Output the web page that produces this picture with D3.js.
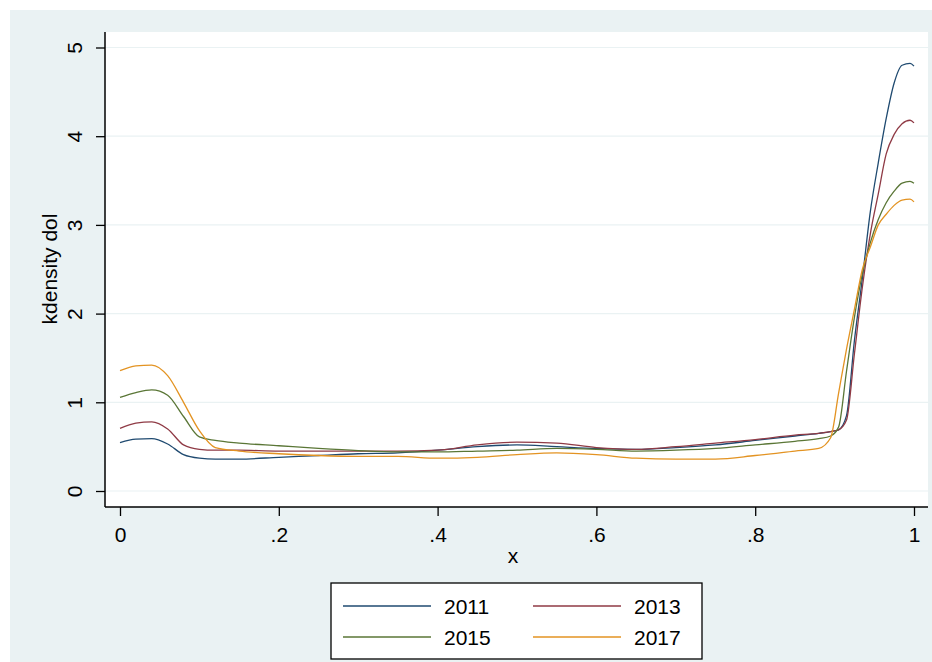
<!DOCTYPE html>
<html>
<head>
<meta charset="utf-8">
<script src="https://cdn.jsdelivr.net/npm/d3@7"></script>
<style>
  body { margin: 0; background: #fff; }
  svg { display: block; font-family: "Liberation Sans", Arial, sans-serif; }
</style>
</head>
<body>
<div id="chart"></div>
<script>
var xs = [0, .02, .04, .06, .08, .10, .12, .15, .20, .25, .30, .35, .40, .45, .50, .55, .60, .65, .70, .75, .80, .85, .88, .895, .905, .915, .925, .935, .945, .955, .965, .975, .985, .995, 1];

// kdensity values per year
var d2011 = [.545, .585, .59, .53, .41, .37, .36, .36, .38, .40, .42, .43, .46, .50, .52, .50, .48, .47, .49, .52, .57, .62, .65, .67, .69, .85, 1.7, 2.4, 3.15, 3.7, 4.2, 4.6, 4.8, 4.82, 4.79];
var d2013 = [.707, .765, .78, .70, .52, .47, .46, .46, .45, .45, .45, .45, .46, .52, .55, .54, .49, .47, .50, .54, .58, .63, .65, .67, .69, .80, 1.55, 2.3, 2.9, 3.35, 3.8, 4.02, 4.14, 4.18, 4.15];
var d2015 = [1.056, 1.11, 1.14, 1.08, .84, .61, .57, .54, .51, .48, .455, .44, .44, .45, .46, .48, .47, .45, .46, .48, .52, .56, .59, .62, .72, 1.35, 1.96, 2.45, 2.8, 3.06, 3.25, 3.38, 3.47, 3.49, 3.47];
var d2017 = [1.356, 1.41, 1.42, 1.30, 1.0, .68, .49, .45, .42, .40, .39, .39, .37, .38, .41, .43, .41, .37, .36, .36, .40, .45, .48, .60, 1.1, 1.6, 2.05, 2.5, 2.75, 3.0, 3.12, 3.22, 3.28, 3.29, 3.26];

var years = ["2011", "2013", "2015", "2017"];
var xTicks = [0, .2, .4, .6, .8, 1];
var xTickLabels = ["0", ".2", ".4", ".6", ".8", "1"];
var yTicks = [0, 1, 2, 3, 4, 5];

var series = [
  { name: years[0], values: d2011, color: "#1f4a70" },
  { name: years[1], values: d2013, color: "#8f3a45" },
  { name: years[2], values: d2015, color: "#5a7636" },
  { name: years[3], values: d2017, color: "#e39322" }
];

var W = 932, H = 662;
var bg = "#eaf2f3";

var svg = d3.select("#chart").append("svg")
  .attr("width", W)
  .attr("height", H);

// graph region (light blue-grey) and white plot region
svg.append("rect").attr("x", 10).attr("y", 10).attr("width", W - 10).attr("height", H - 10).attr("fill", bg);
svg.append("rect").attr("x", 105).attr("y", 32).attr("width", 823).attr("height", 475).attr("fill", "#fff");

var x = d3.scaleLinear().domain([0, 1]).range([120, 914]);
var y = d3.scaleLinear().domain([0, 5]).range([491, 47.5]);

// horizontal grid lines
svg.append("g").selectAll("line")
  .data(yTicks)
  .enter().append("line")
  .attr("x1", 105).attr("x2", 928)
  .attr("y1", function(d){ return y(d); })
  .attr("y2", function(d){ return y(d); })
  .attr("stroke", bg)
  .attr("stroke-width", 1.2);

// density lines
var line = d3.line()
  .x(function(d, i){ return x(xs[i]); })
  .y(function(d){ return y(d); })
  .curve(d3.curveMonotoneX);

svg.append("g").selectAll("path")
  .data(series)
  .enter().append("path")
  .attr("fill", "none")
  .attr("stroke", function(d){ return d.color; })
  .attr("stroke-width", 1.3)
  .attr("d", function(d){ return line(d.values); });

// x axis
var xAxis = svg.append("g")
  .attr("transform", "translate(0,507)")
  .call(d3.axisBottom(x).tickValues(xTicks).tickSize(9)
    .tickFormat(function(d, i){ return xTickLabels[i]; }));
xAxis.select(".domain").attr("d", "M105,0H928").attr("stroke", "#000").attr("stroke-width", 1.5);
xAxis.selectAll(".tick line").attr("stroke", "#000").attr("stroke-width", 1.3);
xAxis.selectAll(".tick text")
  .attr("y", 35).attr("dy", 0)
  .attr("font-size", 21)
  .attr("font-family", "Liberation Sans, Arial, sans-serif")
  .attr("fill", "#000");

// y axis, labels turned like Stata does
var yAxis = svg.append("g")
  .attr("transform", "translate(105,0)")
  .call(d3.axisLeft(y).tickValues(yTicks).tickSize(9).tickFormat(d3.format("d")));
yAxis.select(".domain").attr("d", "M0,32V507").attr("stroke", "#000").attr("stroke-width", 1.5);
yAxis.selectAll(".tick line").attr("stroke", "#000").attr("stroke-width", 1.3);
yAxis.selectAll(".tick text")
  .attr("x", 0).attr("dy", 0)
  .attr("transform", "translate(-23,0) rotate(-90)")
  .attr("text-anchor", "middle")
  .attr("font-size", 21)
  .attr("font-family", "Liberation Sans, Arial, sans-serif")
  .attr("fill", "#000");

// axis titles
svg.append("text")
  .attr("transform", "translate(57,269) rotate(-90)")
  .attr("text-anchor", "middle")
  .attr("font-size", 21)
  .attr("fill", "#000")
  .text("kdensity dol");

svg.append("text")
  .attr("x", 513).attr("y", 563)
  .attr("text-anchor", "middle")
  .attr("font-size", 21)
  .attr("fill", "#000")
  .text("x");

// legend
var legend = svg.append("g");
legend.append("rect")
  .attr("x", 331).attr("y", 583).attr("width", 371).attr("height", 76)
  .attr("fill", "#fff").attr("stroke", "#000").attr("stroke-width", 1.3);

var cols = [343, 533], rows = [606, 637];
var item = legend.selectAll(".item")
  .data(series)
  .enter().append("g")
  .attr("transform", function(d, i){ return "translate(" + cols[i % 2] + "," + rows[Math.floor(i / 2)] + ")"; });
item.append("line")
  .attr("x1", 0).attr("x2", 88)
  .attr("stroke", function(d){ return d.color; })
  .attr("stroke-width", 1.3);
item.append("text")
  .attr("x", 101).attr("y", 7.5)
  .attr("font-size", 21)
  .attr("fill", "#000")
  .text(function(d){ return d.name; });
</script>
</body>
</html>
